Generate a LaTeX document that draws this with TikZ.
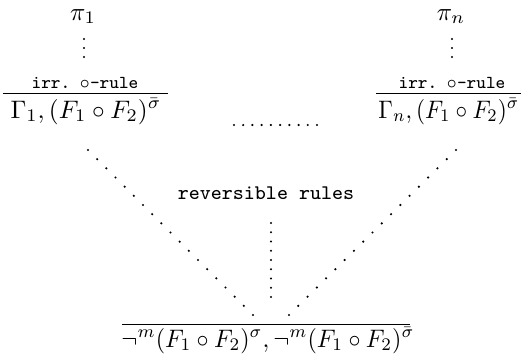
\documentclass[tikz,border=0pt]{standalone}
\usepackage{graphicx}
\usetikzlibrary{calc}
\tikzset{
  txt/.style={anchor=base,inner sep=0pt,outer sep=0pt},
  rulelabel/.style={txt,font=\fontsize{7.2}{9}\selectfont},
  dotmark/.style={fill=black},
}
\newcommand{\dotrow}[3]{%
  \foreach \i in {0,...,#3} {\fill[dotmark] ($(#1)!\i/#3!(#2)$) circle[radius=0.48pt];}}
\begin{document}
\begin{tikzpicture}[x=0.395pt,y=-0.395pt]
\useasboundingbox (0,0) rectangle (523,356);
% left branch
\node[txt] (pi1) at (83,20) {$\pi_1$};
\coordinate (v1a) at (84,39);
\coordinate (v1b) at (84,57);
\dotrow{v1a}{v1b}{2}
\node[rulelabel] (lab1) at (85,88) {\texttt{irr.} $\circ$\texttt{-rule}};
\coordinate (r1a) at (3,93);
\coordinate (r1b) at (168,93);
\draw (r1a) -- (r1b);
\node[txt] (g1) at (86,118) {$\Gamma_1, (F_1\circ F_2)^{\bar\sigma}$};
% right branch
\node[txt] (pin) at (451,20) {$\pi_n$};
\coordinate (vna) at (452,39);
\coordinate (vnb) at (452,57);
\dotrow{vna}{vnb}{2}
\node[rulelabel] (labn) at (452,88) {\texttt{irr.} $\circ$\texttt{-rule}};
\coordinate (rna) at (376,93);
\coordinate (rnb) at (521,93);
\draw (rna) -- (rnb);
\node[txt] (gn) at (449,118) {\scalebox{0.92}[1]{$\Gamma_n, (F_1\circ F_2)^{\bar\sigma}$}};
% middle dots
\coordinate (ma) at (234,125);
\coordinate (mb) at (317,125);
\dotrow{ma}{mb}{9}
% reversible rules
\node[txt,font=\fontsize{8.2}{10}\selectfont\ttfamily] (rev) at (266,199) {reversible rules};
% diagonals and vertical
\coordinate (dla) at (88,150);
\coordinate (dlb) at (253,315);
\dotrow{dla}{dlb}{18}
\coordinate (dra) at (456,150);
\coordinate (drb) at (289,315);
\dotrow{dra}{drb}{18}
\coordinate (vca) at (271,223);
\coordinate (vcb) at (271,297);
\dotrow{vca}{vcb}{8}
% bottom
\coordinate (ba) at (122,324);
\coordinate (bb) at (410,324);
\draw (ba) -- (bb);
\node[txt] (concl) at (268,347) {\scalebox{0.95}[1]{$\neg^m(F_1\circ F_2)^{\sigma}, \neg^m(F_1\circ F_2)^{\bar\sigma}$}};
\end{tikzpicture}
\end{document}
